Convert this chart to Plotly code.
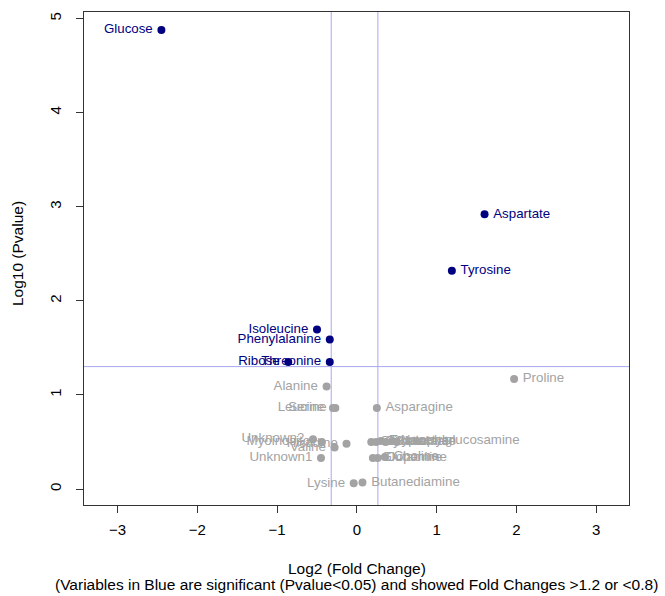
import plotly.graph_objects as go
import numpy as np

# Significant (blue) metabolites
sig_names = ["Glucose", "Aspartate", "Tyrosine", "Isoleucine", "Phenylalanine", "Threonine", "Ribose"]
sig_log2fc = [-2.45, 1.60, 1.19, -0.50, -0.34, -0.34, -0.86]
sig_log10p = [4.88, 2.92, 2.32, 1.695, 1.59, 1.35, 1.35]

# Non-significant (gray) metabolites
ns_names = ["Proline", "Alanine", "Leucine", "Serine", "Asparagine",
            "Unknown2", "Myoinositol", "Valine", "Histidine", "Unknown1",
            "Glycerol", "Citrate", "Tryptophan", "Glutamate", "Nacetylglucosamine", "Lactate",
            "Glutamine", "Dopamine", "Choline",
            "Lysine", "Butanediamine"]
ns_log2fc = [1.97, -0.38, -0.30, -0.27, 0.25,
             -0.55, -0.44, -0.28, -0.13, -0.45,
             0.18, 0.24, 0.30, 0.36, 0.44, 0.50,
             0.20, 0.26, 0.35,
             -0.04, 0.07]
ns_log10p = [1.17, 1.09, 0.86, 0.86, 0.86,
             0.53, 0.50, 0.44, 0.48, 0.33,
             0.50, 0.50, 0.51, 0.50, 0.51, 0.50,
             0.33, 0.33, 0.34,
             0.06, 0.07]

fc_low = np.log2(0.8)
fc_high = np.log2(1.2)
p_thr = -np.log10(0.05)

x_ticks = [-3, -2, -1, 0, 1, 2, 3]
x_ticktext = ["\u22123", "\u22122", "\u22121", "0", "1", "2", "3"]
y_ticks = [0, 1, 2, 3, 4, 5]

BLUE = "#000080"
GRAY = "#A3A3A3"
LINE = "#A8A8F0"
FONT = "Liberation Sans, Arial, Helvetica, sans-serif"

def positions(xs):
    return ["middle left" if x < 0 else "middle right" for x in xs]

def padded(names, xs):
    return [n + "\u2009" if x < 0 else "\u2009" + n for n, x in zip(names, xs)]

fig = go.Figure()
fig.add_trace(go.Scatter(
    x=ns_log2fc, y=ns_log10p, mode="markers+text", text=padded(ns_names, ns_log2fc),
    textposition=positions(ns_log2fc),
    marker=dict(color=GRAY, size=8),
    textfont=dict(color=GRAY, size=13.3, family=FONT),
    hoverinfo="text", showlegend=False, cliponaxis=False))
fig.add_trace(go.Scatter(
    x=sig_log2fc, y=sig_log10p, mode="markers+text", text=padded(sig_names, sig_log2fc),
    textposition=positions(sig_log2fc),
    marker=dict(color=BLUE, size=8),
    textfont=dict(color=BLUE, size=13.3, family=FONT),
    hoverinfo="text", showlegend=False, cliponaxis=False))

for xv in [fc_low, fc_high]:
    fig.add_shape(type="line", xref="x", yref="paper", x0=xv, x1=xv, y0=0, y1=1,
                  line=dict(color=LINE, width=1), layer="below")
fig.add_shape(type="line", xref="paper", yref="y", x0=0, x1=1, y0=p_thr, y1=p_thr,
              line=dict(color=LINE, width=1), layer="below")

fig.update_layout(
    width=665, height=596,
    margin=dict(l=84, r=36, t=12, b=91),
    paper_bgcolor="white", plot_bgcolor="white",
    font=dict(family=FONT, size=15, color="black"),
    xaxis=dict(range=[-3.42, 3.41], tickvals=x_ticks, ticktext=x_ticktext,
               showgrid=False, zeroline=False, showline=True, mirror=True,
               linecolor="#333", linewidth=1, ticks="outside", ticklen=7, tickcolor="#333",
               tickfont=dict(size=15), ticklabelstandoff=4),
    yaxis=dict(range=[-0.17, 5.07], tickvals=y_ticks, tickangle=-90,
               showgrid=False, zeroline=False, showline=True, mirror=True,
               linecolor="#333", linewidth=1, ticks="outside", ticklen=7, tickcolor="#333",
               tickfont=dict(size=15), ticklabelstandoff=9),
    annotations=[
        dict(text="Log2 (Fold Change)", xref="paper", yref="paper", x=0.5, y=-0.128,
             xanchor="center", yanchor="middle", showarrow=False, font=dict(size=15.5)),
        dict(text="(Variables in Blue are significant (Pvalue<0.05) and showed Fold Changes >1.2 or <0.8)",
             xref="paper", yref="paper", x=0.5, y=-0.161, xanchor="center", yanchor="middle",
             showarrow=False, font=dict(size=15.5)),
        dict(text="Log10 (Pvalue)", xref="paper", yref="paper", x=-0.122, y=0.51,
             xanchor="center", yanchor="middle", textangle=-90, showarrow=False, font=dict(size=15.5)),
    ],
)

fig.write_html("out.html")
